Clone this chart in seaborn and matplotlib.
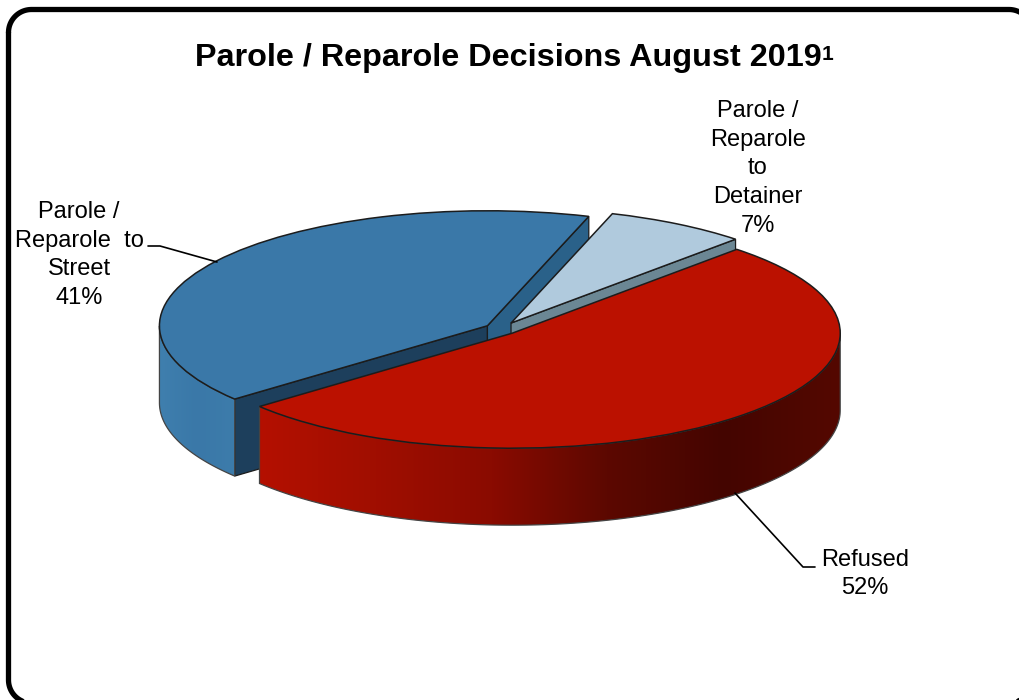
import numpy as np
import matplotlib
matplotlib.use('Agg')
import matplotlib.pyplot as plt
from matplotlib.patches import Polygon
import seaborn as sns

title = 'Parole / Reparole Decisions August 2019'
labels = ['Parole /\nReparole  to\nStreet\n41%', 'Refused\n52%', 'Parole /\nReparole\nto\nDetainer\n7%']
values = [41, 52, 7]
explode = [0.05, 0.05, 0.06]
top_colors = ['#3a78a8', '#bb1100', '#b0cadd']
blue_wall = ['#3f7fae', '#3a78a8', '#3d7cab']
red_wall = ['#b41000', '#a00e00', '#8a0b00', '#5c0800', '#440500', '#540800']
cut_left = '#1d3f5c'
cut_right = '#2a6189'
cut_grey = '#6b8794'

W, H = 1019, 700
PIE_X, PIE_Y = 501, 329   # pie centre, pixels
RX, RY = 328, 115         # pie radii, pixels
DEPTH = 77 / RY

sns.set_theme(style='white')
plt.rcParams['font.family'] = ['Liberation Sans', 'DejaVu Sans']

fig = plt.figure(figsize=(W / 100, H / 100), dpi=100)
ax = fig.add_axes([0, 0, 1, 1])
wedges, _ = ax.pie(values, explode=explode, startangle=72, colors=top_colors, radius=1,
                   wedgeprops={'edgecolor': '#1c1c1c', 'linewidth': 1.1})
ax.set_aspect('auto')
ax.axis('off')


def rim(w, t):
    a = np.radians(t)
    return np.array([w.center[0] + np.cos(a), w.center[1] + np.sin(a)])


def cut_face(w, t, color, z):
    # flat face from the centre of the slice out to the rim, pushed down by the depth
    c = np.array(w.center)
    r = rim(w, t)
    down = np.array([0, -DEPTH])
    ax.add_patch(Polygon([c, r, r + down, c + down], closed=True, facecolor=color,
                         edgecolor='#1c1c1c', linewidth=0.9, zorder=z))


def outer_wall(w, t1, t2, cols, z):
    # outer curved side, filled by a left to right gradient clipped to it
    ts = np.radians(np.linspace(t1, t2, 200))
    x = w.center[0] + np.cos(ts)
    y = w.center[1] + np.sin(ts)
    pts = np.column_stack([np.r_[x, x[::-1]], np.r_[y, y[::-1] - DEPTH]])
    cmap = sns.blend_palette(cols, as_cmap=True)
    poly = Polygon(pts, closed=True, facecolor='none', edgecolor='#444444', linewidth=0.9, zorder=z + 0.1)
    ax.add_patch(poly)
    grad = np.linspace(0, 1, 256)[None, :]
    im = ax.imshow(grad, cmap=cmap, aspect='auto', zorder=z,
                   extent=(x.min(), x.max(), y.min() - DEPTH, y.max()))
    im.set_clip_path(poly)


blue, red, light = wedges
blue.set_zorder(3)
light.set_zorder(5)
red.set_zorder(7)

cut_face(blue, blue.theta2, cut_left, 2)
cut_face(blue, blue.theta1, cut_right, 2)
outer_wall(blue, 180, blue.theta2, blue_wall, 2.5)
cut_face(light, light.theta1, cut_grey, 4)
outer_wall(red, red.theta1, 360, red_wall, 6)

ax.set_xlim(-PIE_X / RX, (W - PIE_X) / RX)
ax.set_ylim(-(H - PIE_Y) / RY, PIE_Y / RY)

# overlay in pixel coordinates for frame, text and leader lines
ov = fig.add_axes([0, 0, 1, 1], facecolor='none')
ov.set_xlim(0, W)
ov.set_ylim(H, 0)
ov.axis('off')

# rounded frame, runs off the right and bottom of the picture
fx0, fy0, fx1, fy1, r = 8.5, 9.5, 1032, 703, 23
fxs, fys = [], []
for cx, cy, a0 in [(fx0 + r, fy0 + r, 180), (fx1 - r, fy0 + r, 270), (fx1 - r, fy1 - r, 0), (fx0 + r, fy1 - r, 90)]:
    a = np.radians(np.linspace(a0, a0 + 90, 30))
    fxs.extend(cx + r * np.cos(a))
    fys.extend(cy + r * np.sin(a))
ov.plot(fxs + fxs[:1], fys + fys[:1], color='black', lw=3.8)

ov.text(195, 66, title, fontsize=23.3, fontweight='bold', ha='left', va='baseline', color='black')
ov.text(822, 60, '1', fontsize=15, fontweight='bold', ha='left', va='baseline', color='black')

label_pos = [(79, 255), (865, 574), (758, 168.5)]
for lab, (lx, ly) in zip(labels, label_pos):
    ov.text(lx, ly, lab, fontsize=17, ha='center', va='center', linespacing=1.39, color='black')

ov.plot([148, 160, 217], [246, 246, 262], color='black', lw=1.2)
ov.plot([735, 803, 815], [493, 567, 567], color='black', lw=1.2)

fig.savefig('out.png', dpi=100)
